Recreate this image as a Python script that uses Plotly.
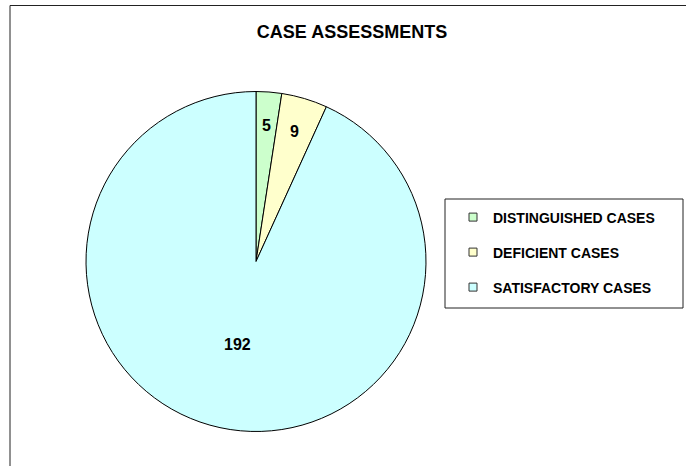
import math
import plotly.graph_objects as go

categories = ["DISTINGUISHED CASES", "DEFICIENT CASES", "SATISFACTORY CASES"]
values = [5, 9, 192]
colors = ["#CCFFCC", "#FFFFCC", "#CCFFFF"]
title = "CASE ASSESSMENTS"

# style: relative radius at which each value label sits
label_radius = [0.8, 0.8, 0.5]

W, H = 686, 466
FONT = "Arial, 'Liberation Sans', sans-serif"
cx, cy, r = 256, 261.5, 170

fig = go.Figure()
fig.add_trace(go.Pie(
    labels=categories, values=values, sort=False, direction="clockwise", rotation=0,
    marker=dict(colors=colors, line=dict(color="#000000", width=1)),
    textinfo="none", showlegend=False, hoverinfo="label+value",
    domain=dict(x=[(cx - r) / W, (cx + r) / W], y=[(H - cy - r) / H, (H - cy + r) / H]),
))
for i, (c, col) in enumerate(zip(categories, colors)):
    fig.add_trace(go.Scatter(
        x=[None], y=[None], mode="markers", name=c, legendgroup=f"g{i}",
        marker=dict(symbol="square", size=8, color=col, line=dict(color="#333333", width=1)),
    ))

# value labels placed at each slice's mid-angle
total = sum(values)
annotations = []
cum = 0
for v, fr in zip(values, label_radius):
    mid = (cum + v / 2) / total * 2 * math.pi
    cum += v
    px = cx + fr * r * math.sin(mid)
    py = cy - fr * r * math.cos(mid)
    annotations.append(dict(
        x=px / W, y=1 - py / H, xref="paper", yref="paper", text=str(v), showarrow=False,
        xanchor="center", yanchor="middle",
        font=dict(family=FONT, size=16, color="#000000", weight="bold"),
    ))

fig.update_layout(
    width=W, height=H, margin=dict(l=0, r=0, t=0, b=0),
    paper_bgcolor="white", plot_bgcolor="white",
    xaxis=dict(visible=False), yaxis=dict(visible=False),
    title=dict(text=title, x=352 / W, xanchor="center", y=1 - 32 / H, yanchor="middle",
               yref="container", font=dict(family=FONT, size=18, color="#000000", weight="bold")),
    legend=dict(x=453 / W, xanchor="left", y=1 - 201.5 / H, yanchor="top",
                font=dict(family=FONT, size=14, color="#000000", weight="bold"),
                bgcolor="rgba(0,0,0,0)", borderwidth=0, tracegroupgap=13.8, traceorder="grouped"),
    annotations=annotations,
    shapes=[
        dict(type="line", xref="paper", yref="paper", x0=10 / W, x1=1.05, y0=1 - 5.5 / H,
             y1=1 - 5.5 / H, line=dict(color="#222222", width=1)),
        dict(type="line", xref="paper", yref="paper", x0=10 / W, x1=10 / W, y0=-0.05,
             y1=1 - 5.5 / H, line=dict(color="#222222", width=1)),
        dict(type="rect", xref="paper", yref="paper", x0=445 / W, x1=683 / W,
             y0=1 - 308 / H, y1=1 - 199 / H, line=dict(color="#222222", width=1)),
    ],
)
fig.write_html(
    "out.html",
    config={"displayModeBar": False},
    post_script="document.body.style.margin='0';document.body.style.overflow='hidden';",
)
